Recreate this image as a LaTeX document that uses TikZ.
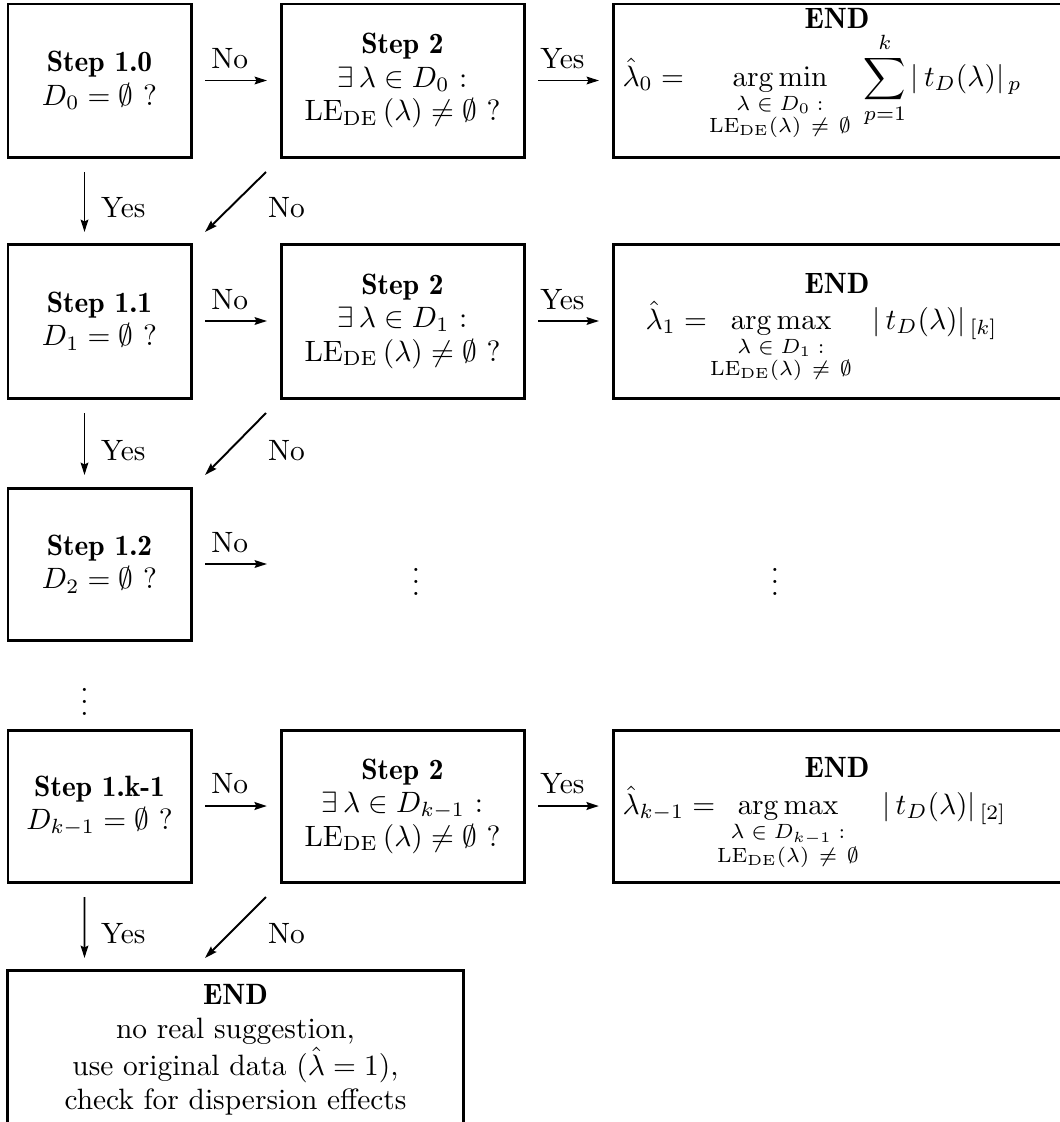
\documentclass[tikz,border=0pt]{standalone}
\usepackage{amsmath,amssymb}
\usetikzlibrary{arrows.meta,calc}
\newcommand\pxu{0.3401pt}
\newcommand\bst[1]{{\fontseries{b}\selectfont #1}}
\begin{document}
\begin{tikzpicture}[x=\pxu, y=-\pxu,
  box/.style={draw, line width=1.02pt, inner sep=0pt, outer sep=0pt, align=center,
    font=\fontsize{10}{11.4}\selectfont},
  sbox/.style={box, minimum width=183*\pxu},
  mbox/.style={box, minimum width=243*\pxu},
  ebox/.style={box, minimum width=450*\pxu},
  arr/.style={line width=0.66pt, -{Stealth[length=4.2pt,width=2.6pt,inset=0.6pt]}},
  arrb/.style={arr, line width=0.95pt},
  hl/.style={pos=0.4, above=0.3pt},
  vl/.style={pos=0.6, anchor=west, xshift=2pt},
  dl/.style={pos=0.6, anchor=west, xshift=9.5pt},
  ttl/.style={inner sep=0pt},
  fm/.style={inner sep=0pt, anchor=base west},
  op/.style={inner sep=0pt, anchor=base}
]
\useasboundingbox (0,0) rectangle (1060,1122);

% ---- row 0
\node[sbox, minimum height=153*\pxu] (b10) at (99.5,80.5) {\bst{Step 1.0}\\ $D_0=\emptyset$ ?};
\node[mbox, minimum height=153*\pxu] (s20) at (402.5,80.5) {\bst{Step 2}\\ $\exists\,\lambda\in D_0$ :\\ $\mathrm{LE}_{\mathrm{DE}}\,(\lambda)\neq\emptyset$ ?};
\node[ebox, minimum height=153*\pxu] (e0) at (838,80.5) {};
\node[ttl] (e0t) at (837,18) {\bst{END}};
\node[fm] (e0l) at (622,86) {$\hat\lambda_0 =$};
\node[op] (e0o) at (780,86) {$\displaystyle\operatorname*{arg\,min}_{\substack{\lambda\;\in\;D_0\;:\\ \mathrm{LE}_{\mathrm{DE}}(\lambda)\ \neq\ \emptyset}}$};
\node[fm] (e0r) at (863,86) {$\displaystyle\sum_{p=1}^{k}|\,t_D(\lambda)|_{\,p}$};

% ---- row 1
\node[sbox, minimum height=154*\pxu] (b11) at (99.5,321) {\bst{Step 1.1}\\ $D_1=\emptyset$ ?};
\node[mbox, minimum height=154*\pxu] (s21) at (402.5,321) {\bst{Step 2}\\ $\exists\,\lambda\in D_1$ :\\ $\mathrm{LE}_{\mathrm{DE}}\,(\lambda)\neq\emptyset$ ?};
\node[ebox, minimum height=154*\pxu] (e1) at (838,321) {};
\node[ttl] (e1t) at (837,283) {\bst{END}};
\node[fm] (e1l) at (645,329) {$\hat\lambda_1 =$};
\node[op] (e1o) at (781,329) {$\displaystyle\operatorname*{arg\,max}_{\substack{\lambda\;\in\;D_1\;:\\ \mathrm{LE}_{\mathrm{DE}}(\lambda)\ \neq\ \emptyset}}$};
\node[fm] (e1r) at (872,329) {$|\,t_D(\lambda)|_{\,[k]}$};

% ---- row 2
\node[sbox, minimum height=152*\pxu] (b12) at (99.5,564) {\bst{Step 1.2}\\ $D_2=\emptyset$ ?};
\coordinate (r2end) at (267,564);
\node (d1) at (416,573) {$\vdots$};
\node (d2) at (775,573) {$\vdots$};
\node (d3) at (84.5,693) {$\vdots$};

% ---- row k-1
\node[sbox, minimum height=152*\pxu] (bk) at (99.5,806) {\bst{Step 1.k-1}\\ $D_{k-1}=\emptyset$ ?};
\node[mbox, minimum height=152*\pxu] (sk) at (402.5,806) {\bst{Step 2}\\ $\exists\,\lambda\in D_{k-1}$ :\\ $\mathrm{LE}_{\mathrm{DE}}\,(\lambda)\neq\emptyset$ ?};
\node[ebox, minimum height=152*\pxu] (ek) at (838,806) {};
\node[ttl] (ekt) at (837,767) {\bst{END}};
\node[fm] (ekl) at (622,814) {$\hat\lambda_{k-1} =$};
\node[op] (eko) at (788,814) {$\displaystyle\operatorname*{arg\,max}_{\substack{\lambda\;\in\;D_{k-1}\;:\\ \mathrm{LE}_{\mathrm{DE}}(\lambda)\ \neq\ \emptyset}}$};
\node[fm] (ekr) at (882,814) {$|\,t_D(\lambda)|_{\,[2]}$};

% ---- final
\node[box, anchor=north] (fin) at (235.5,970) {\parbox[t][61.2pt][t]{154.75pt}{\centering\fontsize{10}{11.4}\selectfont
  \vspace*{5pt}\bst{END}\\ no real suggestion,\\ use original data ($\hat\lambda=1$),\\ check for dispersion effects}};

% ---- connectors row 0
\draw[arr] ($(b10.east)+(14,0)$) -- node[hl]{No} ($(s20.west)+(-14,0)$);
\draw[arr] ($(s20.east)+(14,0)$) -- node[hl]{Yes} ($(e0.west)+(-14,0)$);
\draw[arr] ($(b10.south)+(-15,15)$) -- node[vl]{Yes} ($(b11.north)+(-15,-12)$);
\draw[arr] ($(s20.south west)+(-15,15)$) -- node[dl]{No} ($(b11.north east)+(14,-12)$);
% ---- row 1
\draw[arr] ($(b11.east)+(14,0)$) -- node[hl]{No} ($(s21.west)+(-14,0)$);
\draw[arr] ($(s21.east)+(14,0)$) -- node[hl]{Yes} ($(e1.west)+(-14,0)$);
\draw[arr] ($(b11.south)+(-15,15)$) -- node[vl]{Yes} ($(b12.north)+(-15,-13)$);
\draw[arr] ($(s21.south west)+(-15,15)$) -- node[dl]{No} ($(b12.north east)+(14,-13)$);
% ---- row 2
\draw[arr] ($(b12.east)+(14,0)$) -- node[hl]{No} (r2end);
% ---- row k-1
\draw[arrb] ($(bk.east)+(14,0)$) -- node[hl]{No} ($(sk.west)+(-14,0)$);
\draw[arrb] ($(sk.east)+(14,0)$) -- node[hl]{Yes} ($(ek.west)+(-14,0)$);
\draw[arr] ($(bk.south)+(-15,15)$) -- node[vl]{Yes} ($(fin.north west)+(76.5,-12)$);
\draw[arr] ($(sk.south west)+(-15,15)$) -- node[dl]{No} ($(fin.north west)+(197,-12)$);
\end{tikzpicture}
\end{document}
